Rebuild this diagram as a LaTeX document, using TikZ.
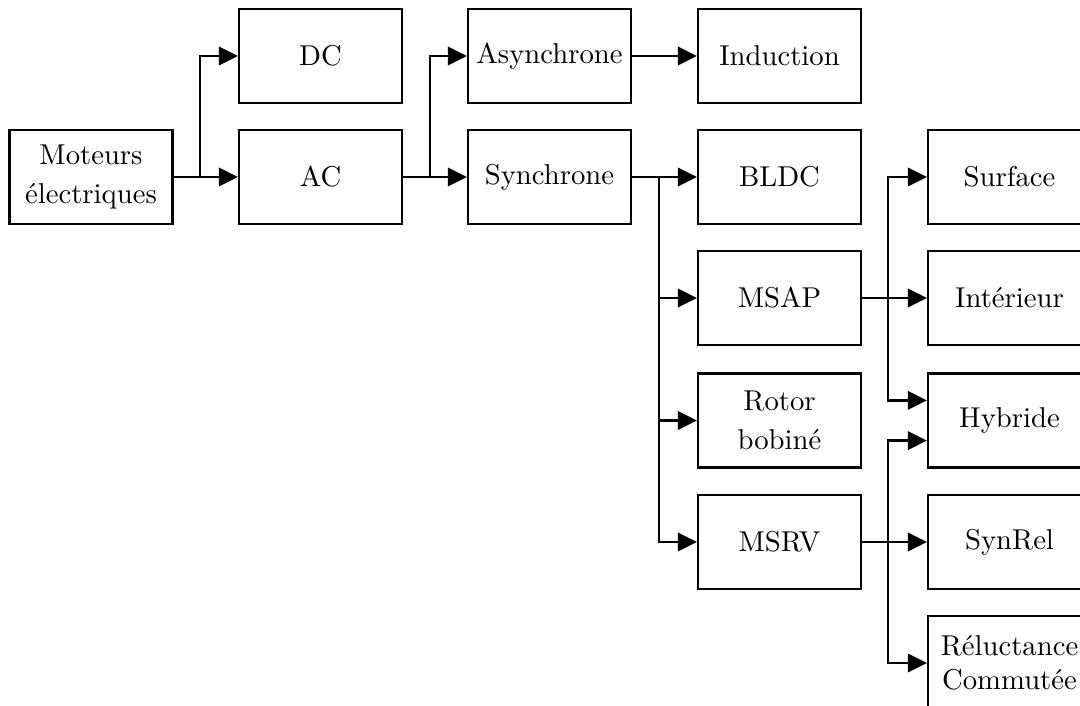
\documentclass[tikz,border=0pt]{standalone}
\usetikzlibrary{arrows.meta}
\begin{document}
\begin{tikzpicture}[x=0.3484pt,y=-0.3484pt,
  box/.style={draw,line width=0.8pt,minimum width=56.8pt,minimum height=32.7pt,inner sep=1pt,align=center},
  arr/.style={line width=0.8pt,-{Triangle[length=6.6pt,width=6.4pt]}},
  ln/.style={line width=0.8pt}]
\useasboundingbox (0,0) rectangle (1080,706);
\clip (0,0) rectangle (1080,706);
\node[box] (mot) at (91,177) {Moteurs\\[1.5pt]électriques};
\node[box] (dc) at (320.5,56) {DC};
\node[box] (ac) at (320.5,177) {AC};
\node[box] (asy) at (549.5,56) {Asynchrone};
\node[box] (syn) at (549.5,177) {Synchrone};
\node[box] (ind) at (779.5,56) {Induction};
\node[box] (bldc) at (779.5,177) {BLDC};
\node[box] (msap) at (779.5,298) {MSAP};
\node[box] (rot) at (779.5,420.5) {Rotor\\[1.5pt]bobiné};
\node[box] (msrv) at (779.5,542) {MSRV};
\node[box] (surf) at (1009.5,177) {Surface};
\node[box] (int) at (1009.5,298) {Intérieur};
\node[box] (hyb) at (1009.5,420.5) {Hybride};
\node[box] (synr) at (1009.5,542) {SynRel};
\node[box] (rel) at (1009.5,663) {Réluctance\\Commutée};
\coordinate (j1) at (200,177);
\coordinate (j2) at (430,177);
\coordinate (j3) at (659,177);
\coordinate (j4) at (888,298);
\coordinate (j5) at (888,542);
\draw[arr] (mot) -- (ac);
\draw[arr] (j1) |- (dc);
\draw[arr] (ac) -- (syn);
\draw[arr] (j2) |- (asy);
\draw[arr] (asy) -- (ind);
\draw[arr] (syn) -- (bldc);
\draw[arr] (j3) |- (msap);
\draw[arr] (j3) |- (rot);
\draw[arr] (j3) |- (msrv);
\draw[arr] (msap) -- (int);
\draw[arr] (j4) |- (surf);
\draw[arr] (j4) |- ([yshift=7pt]hyb.west);
\draw[arr] (msrv) -- (synr);
\draw[arr] (j5) |- ([yshift=-7pt]hyb.west);
\draw[arr] (j5) |- (rel);
\end{tikzpicture}
\end{document}
